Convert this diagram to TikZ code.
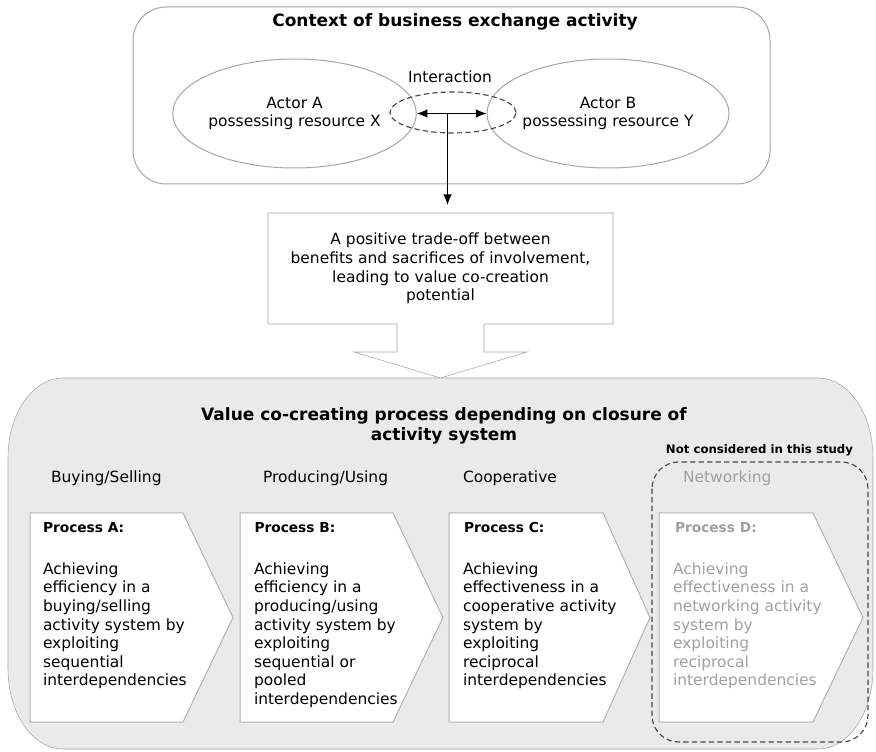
\documentclass[tikz,border=0pt]{standalone}
\usepackage{fontspec}
\setmainfont{DejaVu Sans}
\usetikzlibrary{arrows.meta,shapes.geometric,backgrounds}

\definecolor{panelfill}{HTML}{EAEAEA}
\definecolor{frameline}{HTML}{A6A6A6}
\definecolor{boxline}{HTML}{B2B2B2}
\definecolor{fadedtext}{HTML}{A0A0A0}
\definecolor{dashline}{HTML}{484848}

% type sizes
\newcommand\dgBody{\fontsize{11.6}{13.95}\selectfont}
\newcommand\dgEll{\fontsize{11.6}{13.5}\selectfont}
\newcommand\dgHead{\fontsize{12.75}{15}\selectfont\bfseries}
\newcommand\dgProc{\fontsize{10.3}{12}\selectfont\bfseries}
\newcommand\dgNote{\fontsize{8.8}{10}\selectfont\bfseries}

\tikzset{
  txt/.style={inner sep=0pt, outer sep=0pt, font=\dgBody},
  actor/.style={ellipse, draw=frameline, fill=white, inner sep=0pt,
    minimum width=162.75pt, minimum height=81.75pt, align=center, font=\dgEll},
  procbox/.style={draw=boxline, fill=white},
  headed/.style={-{Latex[length=8pt,width=6.5pt]}},
  twoheaded/.style={{Latex[length=8pt,width=6.5pt]}-{Latex[length=8pt,width=6.5pt]}},
  dashring/.style={draw=dashline, line width=0.85pt, dash pattern=on 4pt off 2.4pt},
}

\begin{document}
\begin{tikzpicture}[x=0.75pt,y=-0.75pt,line width=0.75pt]
\useasboundingbox (0,0) rectangle (876,752);

% ---- context of the exchange ----
\draw[frameline, fill=white, rounded corners=25pt] (133,7) rectangle (770,184);
\node[txt, font=\dgHead] (ctxtitle) at (455,21.5) {Context of business exchange activity};
\node[actor] (actorA) at (294.5,113.5) {Actor A\\possessing resource X};
\node[actor, minimum width=165pt] (actorB) at (608,113.5) {Actor B\\possessing resource Y};
\node[ellipse, dashring, inner sep=0pt, minimum width=94.5pt, minimum height=30.75pt] (inter) at (453,112.5) {};
\node[txt] (interlabel) at (450,77) {Interaction};
\draw[twoheaded] (actorA.east) -- (actorB.west);

% ---- trade-off box ----
\node[txt, align=center, minimum width=258.75pt, minimum height=83.25pt] (trade) at (440.5,268.5)
  {A positive trade-off between\\benefits and sacrifices of involvement,\\leading to value co-creation\\potential};
\coordinate (hub) at (447.5,113.5);
\draw[headed, shorten >=6pt] (hub) -- (hub |- trade.north);

% ---- value co-creating panel ----
\node[txt, font=\dgHead, align=center] (panelhead) at (444,426)
  {Value co-creating process depending on closure of\\activity system};
\node[txt, font=\dgNote] (notestudy) at (759.5,450) {Not considered in this study};

\node[txt, anchor=west] (modeA) at (51,478) {Buying/Selling};
\node[txt, anchor=west] (modeB) at (263,478) {Producing/Using};
\node[txt, anchor=west] (modeC) at (463,478) {Cooperative};
\node[txt, anchor=west, text=fadedtext] (modeD) at (683,478) {Networking};

\draw[dashring, rounded corners=20pt] (652,462) rectangle (868,742);

% process A
\draw[procbox] (30,513) -- (183,513) -- (233,617.5) -- (183,722) -- (30,722) -- cycle;
\node[txt, font=\dgProc, anchor=north west] (titleA) at (43,522) {Process A:};
\node[txt, anchor=north west, align=left] (bodyA) at (43,562.5)
  {Achieving\\efficiency in a\\buying/selling\\activity system by\\exploiting\\sequential\\interdependencies};

% process B
\draw[procbox] (240,513) -- (393,513) -- (443,617.5) -- (393,722) -- (240,722) -- cycle;
\node[txt, font=\dgProc, anchor=north west] (titleB) at (254.5,522) {Process B:};
\node[txt, anchor=north west, align=left] (bodyB) at (254,562.5)
  {Achieving\\efficiency in a\\producing/using\\activity system by\\exploiting\\sequential or\\pooled\\interdependencies};

% process C
\draw[procbox] (449,513) -- (603,513) -- (650,617.5) -- (603,722) -- (449,722) -- cycle;
\node[txt, font=\dgProc, anchor=north west] (titleC) at (464,522) {Process C:};
\node[txt, anchor=north west, align=left] (bodyC) at (463,562.5)
  {Achieving\\effectiveness in a\\cooperative activity\\system by\\exploiting\\reciprocal\\interdependencies};

% process D (outside the study)
\draw[procbox] (659,513) -- (813,513) -- (863,617.5) -- (813,722) -- (659,722) -- cycle;
\node[txt, font=\dgProc, anchor=north west, text=fadedtext] (titleD) at (675,522) {Process D:};
\node[txt, anchor=north west, align=left, text=fadedtext] (bodyD) at (673,562.5)
  {Achieving\\effectiveness in a\\networking activity\\system by\\exploiting\\reciprocal\\interdependencies};

% ---- shapes behind the text ----
\begin{scope}[on background layer]
  \draw[frameline, fill=panelfill]
    (63,378) -- (818,378) arc[start angle=-90, end angle=0, x radius=55, y radius=80]
    -- (873,669) arc[start angle=0, end angle=90, x radius=55, y radius=80]
    -- (63,749) arc[start angle=90, end angle=180, x radius=55, y radius=80]
    -- (8,458) arc[start angle=180, end angle=270, x radius=55, y radius=80] -- cycle;
  \draw[frameline, fill=white]
    (trade.north west) -- (trade.north east) -- (trade.south east)
    -- (484,324) -- (484,352) -- (527,352) -- (trade.south |- 0,378)
    -- (354,352) -- (397,352) -- (397,324) -- (trade.south west) -- cycle;
\end{scope}
\end{tikzpicture}
\end{document}
